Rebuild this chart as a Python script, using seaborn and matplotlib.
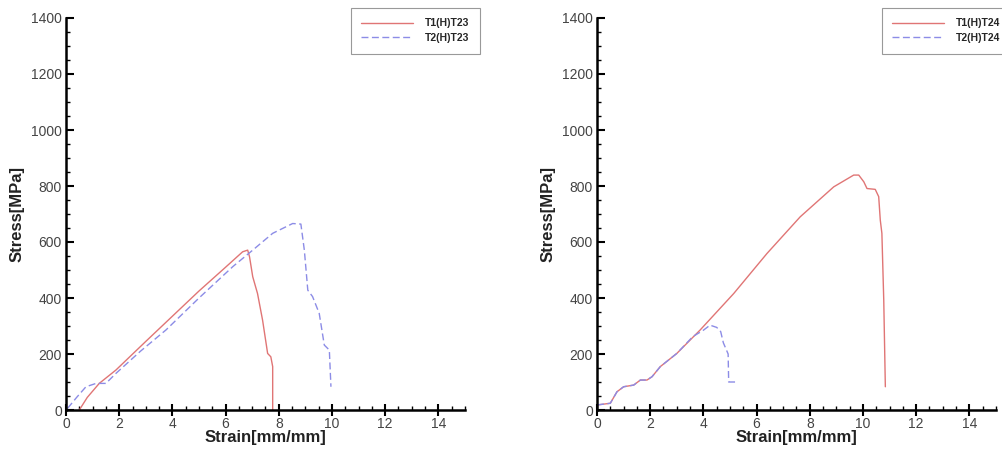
import pandas as pd
import numpy as np
import matplotlib.pyplot as plt
import seaborn as sns
from matplotlib.ticker import MultipleLocator

# left panel (T23)
t1_23_strain = [0.5, 0.8, 1.25, 1.88, 3.0, 4.0, 5.0, 6.0, 6.64, 6.83, 6.9, 7.02, 7.2, 7.39, 7.58, 7.7, 7.77, 7.77]
t1_23_stress = [0, 45, 95, 143, 245, 335, 425, 510, 565, 571, 547, 476, 416, 321, 202, 190, 155, 0]
t2_23_strain = [0.06, 0.4, 0.75, 1.13, 1.5, 1.88, 2.8, 3.76, 5.0, 6.27, 7.02, 7.77, 8.52, 8.83, 8.96, 9.09, 9.27, 9.52, 9.71, 9.9, 9.96]
t2_23_stress = [6, 45, 83, 95, 95, 131, 210, 286, 400, 512, 571, 631, 666, 664, 571, 428, 405, 345, 232, 214, 83]

# right panel (T24)
t1_24_strain = [0.0, 0.5, 0.75, 1.0, 1.38, 1.63, 1.88, 2.07, 2.38, 3.0, 3.88, 5.14, 6.39, 7.64, 8.9, 9.65, 9.84, 10.03, 10.15, 10.46, 10.59, 10.65, 10.71, 10.78, 10.84]
t1_24_stress = [18, 24, 65, 83, 89, 107, 107, 119, 155, 202, 286, 416, 559, 690, 797, 839, 839, 815, 791, 788, 762, 678, 631, 393, 83]
t2_24_strain = [0.0, 0.5, 0.75, 1.0, 1.38, 1.63, 1.88, 2.07, 2.38, 3.0, 3.3, 3.6, 4.0, 4.25, 4.5, 4.65, 4.75, 4.93, 4.95, 5.25]
t2_24_stress = [18, 24, 65, 83, 89, 107, 107, 119, 155, 202, 232, 262, 285, 303, 295, 280, 240, 200, 100, 100]

panels = [
    ("T1(H)T23", t1_23_strain, t1_23_stress, "T2(H)T23", t2_23_strain, t2_23_stress),
    ("T1(H)T24", t1_24_strain, t1_24_stress, "T2(H)T24", t2_24_strain, t2_24_stress),
]

sns.set_style("white")
plt.rcParams['font.family'] = ['Liberation Sans', 'DejaVu Sans']

fig = plt.figure(figsize=(10.03, 4.49), dpi=100)
axes = [fig.add_axes([66 / 1003, 39 / 449, 399 / 1003, 392 / 449]),
        fig.add_axes([597 / 1003, 39 / 449, 399 / 1003, 392 / 449])]
legend_left = [351 / 1003, 882 / 1003]

for ax, (n1, x1, y1, n2, x2, y2), lx in zip(axes, panels, legend_left):
    df = pd.concat([
        pd.DataFrame({'strain': x1, 'stress': y1, 'series': n1}),
        pd.DataFrame({'strain': x2, 'stress': y2, 'series': n2}),
    ])
    sns.lineplot(data=df, x='strain', y='stress', hue='series', style='series',
                 palette={n1: '#e07575', n2: '#8c8ce6'},
                 dashes={n1: '', n2: (5, 2.5)},
                 sort=False, estimator=None, linewidth=1.0, ax=ax)
    ax.set_xlim(0, 15)
    ax.set_ylim(0, 1400)
    ax.xaxis.set_major_locator(MultipleLocator(2))
    ax.xaxis.set_minor_locator(MultipleLocator(0.5))
    ax.yaxis.set_major_locator(MultipleLocator(200))
    ax.yaxis.set_minor_locator(MultipleLocator(50))
    ax.tick_params(axis='x', which='major', direction='inout', length=8, width=1.5,
                   labelsize=10, labelcolor='#444444', pad=1)
    ax.tick_params(axis='y', which='major', direction='in', length=6, width=1.5,
                   labelsize=10, labelcolor='#444444', pad=3)
    ax.tick_params(which='minor', direction='in', length=3, width=1, bottom=True, left=True)
    ax.tick_params(which='both', bottom=True, left=True, top=False, right=False, color='black')
    for s in ['top', 'right']:
        ax.spines[s].set_visible(False)
    for s in ['left', 'bottom']:
        ax.spines[s].set_linewidth(1.8)
        ax.spines[s].set_color('black')
    ax.set_xlabel('Strain[mm/mm]', fontsize=12, fontweight='bold', color='#222222')
    ax.set_ylabel('Stress[MPa]', fontsize=12, fontweight='bold', color='#222222')
    ax.xaxis.set_label_coords(0.5, -0.052)
    ax.yaxis.set_label_coords(-0.105, 0.5)
    ax.legend(loc='upper left', bbox_to_anchor=(lx, 1 - 8 / 449), bbox_transform=fig.transFigure,
              fancybox=False, edgecolor='#999999', framealpha=1, borderaxespad=0,
              prop={'size': 7.5, 'weight': 'bold'}, handlelength=5, handletextpad=1.1,
              labelspacing=0.45, borderpad=1.0, title=None)
    ax.get_legend().get_frame().set_linewidth(0.8)

fig.savefig('out.png', dpi=100)
